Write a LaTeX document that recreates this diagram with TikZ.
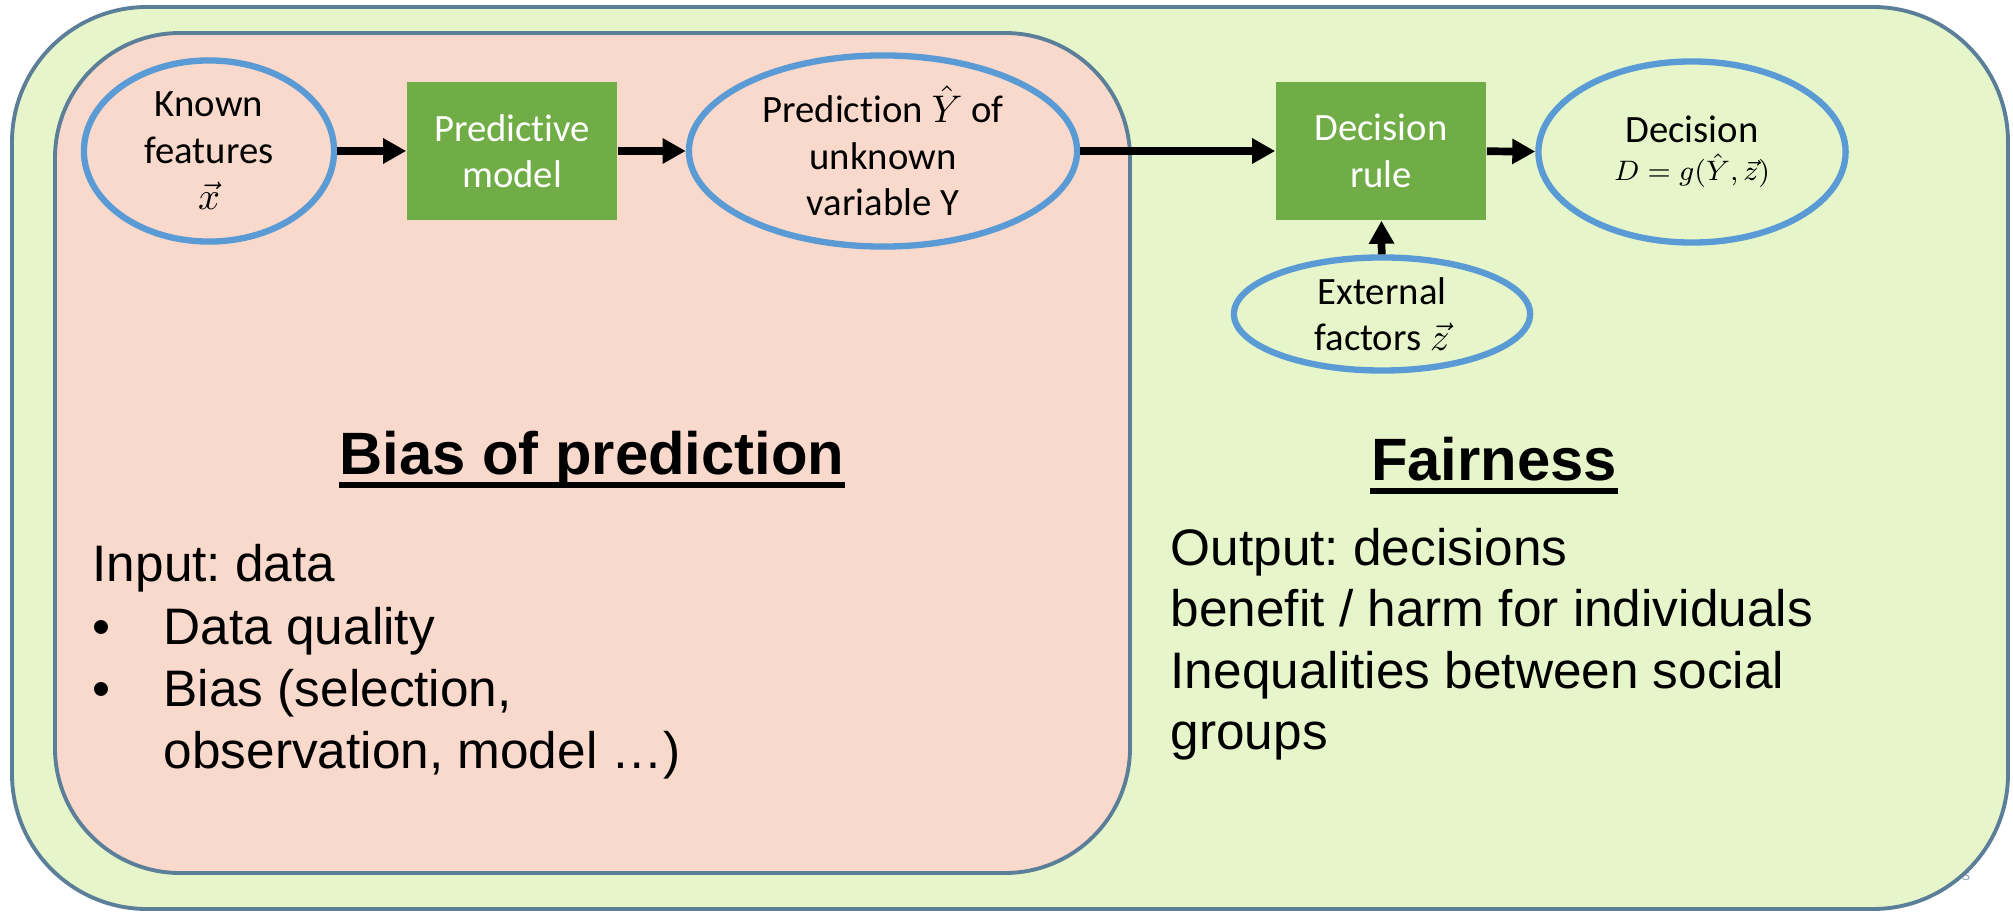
\documentclass[tikz,border=0pt]{standalone}
\usepackage{amsmath}
\usepackage{fontspec}
\setmainfont{Liberation Sans}
\newfontfamily\calibri[Ligatures=NoCommon]{Carlito}
\usepackage{xcolor}
\usepackage{tikz}
\usetikzlibrary{shapes.geometric,arrows.meta,positioning}
\frenchspacing

\definecolor{outerfill}{HTML}{E7F6CA}
\definecolor{innerfill}{HTML}{F9D9CB}
\definecolor{framegray}{HTML}{5B7F99}
\definecolor{ovalblue}{HTML}{5B9BD5}
\definecolor{blockgreen}{HTML}{70AD47}

\begin{document}
\begin{tikzpicture}[
    x=0.01cm, y=-0.01cm,
    region/.style={draw=framegray, line width=1.1pt},
    oval/.style={ellipse, draw=ovalblue, line width=1.8pt, inner sep=-3pt, align=center, font=\calibri\fontsize{11}{13.2}\selectfont},
    block/.style={rectangle, fill=blockgreen, text=white, minimum width=2.1cm, minimum height=1.38cm, align=center, font=\calibri\fontsize{11}{13.2}\selectfont},
    arrow/.style={-{Triangle[length=0.23cm,width=0.24cm]}, line width=2.2pt},
    heading/.style={inner sep=0pt, anchor=base, font=\bfseries\fontsize{17}{20}\selectfont},
    body/.style={inner sep=0pt, anchor=base west, font=\fontsize{14.6}{17.6}\selectfont}
]
    \useasboundingbox (0,0) rectangle (2013,913);

    % frames
    \node[inner sep=0pt, text=framegray!60, font=\fontsize{5}{6}\selectfont] (stub) at (1966,876) {s};
    \draw[region, fill=outerfill, rounded corners=1.35cm] (12,7) rectangle (2008,909);
    \draw[region, fill=innerfill, rounded corners=1.25cm] (55,33) rectangle (1130,873);

    % chain
    \node[oval, minimum width=2.5cm, minimum height=1.81cm] (feat) at (209,151) {Known\\features\\$\vec{x}$};
    \node[block] (model) at (512,151) {Predictive\\model};
    \node[oval, minimum width=3.88cm, minimum height=1.91cm] (pred) at (883,151) {Prediction $\hat{Y}$ of\\unknown\\variable Y};
    \node[block] (rule) at (1381,151) {Decision\\rule};
    \node[oval, minimum width=3.07cm, minimum height=1.81cm] (dec) at (1692,152) {Decision\\[-2.4pt]{\fontsize{8.5}{10}\selectfont$D=g(\hat{Y},\vec{z})$}};
    \node[oval, minimum width=2.96cm, minimum height=1.13cm] (ext) at (1382,314) {External\\factors $\vec{z}$};

    \draw[arrow] (feat) -- (model);
    \draw[arrow] (model) -- (pred);
    \draw[arrow] (pred) -- (rule);
    \draw[arrow] (rule) -- (dec);
    \draw[arrow] (ext) -- (rule);

    % left panel
    \node[heading] (bias) at (592,475) {Bias of prediction};
    \draw[line width=1.6pt] ([yshift=-2.9pt]bias.base west) -- ([yshift=-2.9pt]bias.base east);
    \node[body] (inp) at (92,581) {Input: data};
    \node[body] (dot1) at (92,644) {\textbullet};
    \node[body] (qual) at (163,644) {Data quality};
    \node[body] (dot2) at (92,706) {\textbullet};
    \node[body] (sel) at (163,706) {Bias (selection,};
    \node[body] (obs) at (163,768) {observation, model \dots)};

    % right panel
    \node[heading] (fair) at (1494,481) {Fairness};
    \draw[line width=1.6pt] ([yshift=-2.9pt]fair.base west) -- ([yshift=-2.9pt]fair.base east);
    \foreach \txt [count=\i from 0] in {Output: decisions, benefit / harm for individuals, Inequalities between social, groups}
        \node[body] (out\i) at (1170,{565+61.5*\i}) {\txt};
\end{tikzpicture}
\end{document}
